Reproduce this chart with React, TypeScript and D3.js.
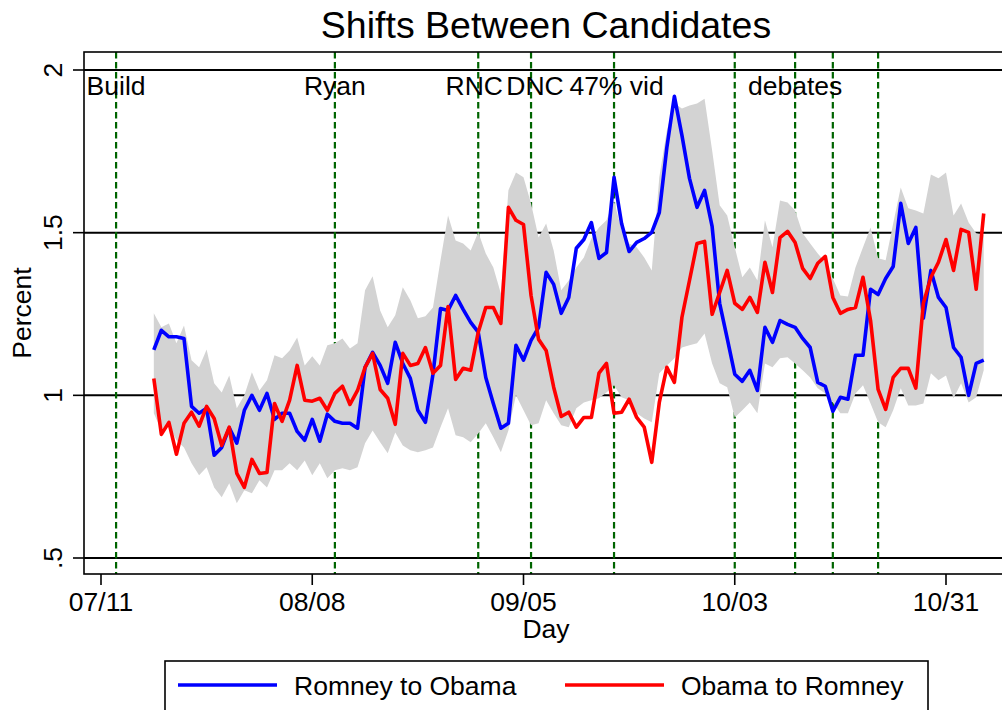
import React from "react";
import * as d3 from "d3";

// Daily series, first observation on FIRST_DAY, one value per day.
const FIRST_DAY = "2012-07-18";

const romneyToObama = [
  1.14, 1.2, 1.18, 1.18, 1.175, 0.966, 0.945, 0.96, 0.816, 0.84,
  0.9, 0.853, 0.954, 1.0, 0.954, 1.006, 0.926, 0.945, 0.945, 0.889,
  0.862, 0.926, 0.859, 0.942, 0.92, 0.914, 0.914, 0.899, 1.086, 1.132,
  1.092, 1.037, 1.163, 1.098, 1.052, 0.954, 0.917, 1.065, 1.267, 1.261,
  1.307, 1.264, 1.224, 1.194, 1.055, 0.975, 0.899, 0.914, 1.154, 1.108,
  1.169, 1.209, 1.378, 1.341, 1.252, 1.301, 1.452, 1.479, 1.531, 1.421,
  1.439, 1.67, 1.528, 1.442, 1.47, 1.482, 1.501, 1.562, 1.762, 1.919,
  1.799, 1.667, 1.578, 1.63, 1.519, 1.283, 1.175, 1.065, 1.043, 1.077,
  1.015, 1.209, 1.163, 1.23, 1.218, 1.209, 1.175, 1.147, 1.04, 1.028,
  0.951, 0.994, 0.988, 1.123, 1.123, 1.326, 1.31, 1.359, 1.396, 1.59,
  1.467, 1.516, 1.237, 1.384, 1.301, 1.27, 1.147, 1.117, 1.0, 1.098,
  1.108,
];

const obamaToRomney = [
  1.052, 0.88, 0.917, 0.819, 0.914, 0.948, 0.905, 0.966, 0.929, 0.846,
  0.902, 0.76, 0.717, 0.803, 0.76, 0.763, 0.975, 0.92, 0.985, 1.092,
  0.985, 0.982, 0.991, 0.954, 1.006, 1.028, 0.972, 1.015, 1.086, 1.129,
  1.018, 0.991, 0.911, 1.129, 1.092, 1.098, 1.147, 1.068, 1.092, 1.273,
  1.049, 1.083, 1.077, 1.194, 1.27, 1.27, 1.221, 1.578, 1.538, 1.525,
  1.307, 1.172, 1.138, 1.025, 0.935, 0.948, 0.902, 0.932, 0.932, 1.068,
  1.098, 0.945, 0.948, 0.988, 0.932, 0.902, 0.794, 0.978, 1.086, 1.04,
  1.24, 1.353, 1.467, 1.473, 1.249, 1.316, 1.384, 1.283, 1.264, 1.301,
  1.255, 1.409, 1.316, 1.485, 1.504, 1.47, 1.39, 1.359, 1.406, 1.427,
  1.301, 1.252, 1.264, 1.27, 1.363, 1.23, 1.018, 0.957, 1.055, 1.083,
  1.083, 1.022, 1.283, 1.363, 1.409, 1.479, 1.384, 1.51, 1.501, 1.326,
  1.559,
];

// Shaded interval, upper and lower bounds
const bandUpper = [
  1.252, 1.209, 1.221, 1.16, 1.215, 1.108, 1.086, 1.141, 1.037, 1.009,
  1.061, 0.96, 1.0, 1.071, 1.015, 1.046, 1.123, 1.114, 1.138, 1.178,
  1.092, 1.12, 1.092, 1.154, 1.16, 1.175, 1.144, 1.16, 1.323, 1.366,
  1.261, 1.209, 1.246, 1.332, 1.292, 1.237, 1.243, 1.27, 1.415, 1.553,
  1.476, 1.467, 1.445, 1.501, 1.436, 1.393, 1.313, 1.63, 1.685, 1.67,
  1.59, 1.485, 1.528, 1.445, 1.323, 1.353, 1.393, 1.424, 1.482, 1.516,
  1.538, 1.599, 1.507, 1.467, 1.455, 1.424, 1.384, 1.67, 1.814, 1.897,
  1.882, 1.891, 1.897, 1.912, 1.753, 1.584, 1.553, 1.455, 1.363, 1.393,
  1.353, 1.538, 1.455, 1.599, 1.593, 1.568, 1.498, 1.467, 1.436, 1.409,
  1.359, 1.307, 1.304, 1.393, 1.455, 1.516, 1.421, 1.415, 1.528, 1.639,
  1.575, 1.568, 1.559, 1.679, 1.667, 1.685, 1.553, 1.59, 1.531, 1.498,
  1.492,
];

const bandLower = [
  0.945, 0.892, 0.908, 0.862, 0.84, 0.791, 0.754, 0.779, 0.717, 0.687,
  0.73, 0.668, 0.708, 0.699, 0.739, 0.717, 0.77, 0.77, 0.791, 0.77,
  0.8, 0.754, 0.791, 0.745, 0.77, 0.776, 0.77, 0.779, 0.853, 0.892,
  0.856, 0.822, 0.886, 0.846, 0.831, 0.825, 0.831, 0.84, 0.902, 0.96,
  0.877, 0.871, 0.856, 0.883, 0.914, 0.871, 0.825, 0.892, 1.0, 0.954,
  0.908, 0.914, 0.985, 0.945, 0.908, 0.902, 0.96, 0.978, 0.985, 0.991,
  1.009, 1.031, 0.994, 0.985, 0.945, 0.929, 0.917, 1.068, 1.092, 1.114,
  1.147, 1.154, 1.16, 1.19, 1.098, 1.037, 1.025, 0.932, 0.954, 0.978,
  0.945, 1.098, 1.086, 1.114, 1.117, 1.098, 1.077, 1.055, 1.022, 1.006,
  0.978, 0.945, 0.945, 1.006, 1.031, 0.975, 0.917, 0.902, 0.954, 1.022,
  0.969, 0.969, 0.975, 1.068, 1.046, 1.061, 0.991, 1.037, 0.978, 0.994,
  1.077,
];

const xTickDates = ["2012-07-11", "2012-08-08", "2012-09-05", "2012-10-03", "2012-10-31"];
const xTickLabels = ["07/11", "08/08", "09/05", "10/03", "10/31"];

const yTicks = [0.5, 1, 1.5, 2];
const yTickLabels = [".5", "1", "1.5", "2"];

const eventDates = [
  "2012-07-13", "2012-08-11", "2012-08-30", "2012-09-06", "2012-09-17",
  "2012-10-03", "2012-10-11", "2012-10-16", "2012-10-22",
];
const eventLabels = ["Build", "Ryan", "RNC", "DNC", "47% vid", "", "debates", "", ""];

const seriesNames = ["Romney to Obama", "Obama to Romney"];
const seriesColors = ["#0000ff", "#ff0000"];

const W = 1002;
const H = 710;
const FONT = "'Liberation Sans', Arial, Helvetica, sans-serif";
const FS = 26.5;

const frame = { left: 84, top: 52, right: 1008, bottom: 574 };

// horizontal nudges (px) so neighbouring event labels don't collide
const labelNudge = [0, 0, -4, 4, 2.5, 0, 0, 0, 0];

const parse = d3.utcParse("%Y-%m-%d");
const DAY = 86400000;

export default function App() {
  const start = parse(FIRST_DAY)!.getTime();
  const days = romneyToObama.map((_, i) => new Date(start + i * DAY));

  const x = d3
    .scaleUtc()
    .domain([parse("2012-07-11")!, parse("2012-10-31")!])
    .range([101, 946]);
  const y = d3.scaleLinear().domain([0.5, 2]).range([558, 70]);

  const area = d3
    .area<number>()
    .x((_, i) => x(days[i]))
    .y0((_, i) => y(bandLower[i]))
    .y1((_, i) => y(bandUpper[i]));

  const line = (vals: number[]) =>
    d3
      .line<number>()
      .x((_, i) => x(days[i]))
      .y((v) => y(v))(vals) as string;

  return (
    <svg
      width={W}
      height={H}
      viewBox={`0 0 ${W} ${H}`}
      style={{ position: "absolute", left: 0, top: 0, background: "#fff", fontFamily: FONT }}
    >
      <rect x={0} y={0} width={W} height={H} fill="#fff" />

      <text x={546} y={38} textAnchor="middle" fontSize={37.5} fill="#000">
        Shifts Between Candidates
      </text>

      {/* horizontal reference lines at the y ticks */}
      {yTicks.map((t) => (
        <line key={`g${t}`} x1={frame.left} x2={frame.right} y1={y(t)} y2={y(t)} stroke="#000" strokeWidth={2} />
      ))}

      {/* event markers */}
      {eventDates.map((d) => {
        const ex = x(parse(d)!);
        return (
          <line
            key={`e${d}`}
            x1={ex}
            x2={ex}
            y1={frame.top}
            y2={frame.bottom}
            stroke="#006400"
            strokeWidth={2.2}
            strokeDasharray="6.5 3.5"
          />
        );
      })}

      <path d={area(bandUpper) as string} fill="#d3d3d3" stroke="none" />

      {[romneyToObama, obamaToRomney].map((vals, k) => (
        <path
          key={`s${k}`}
          d={line(vals)}
          fill="none"
          stroke={seriesColors[k]}
          strokeWidth={3.6}
          strokeLinejoin="round"
        />
      ))}

      {eventDates.map((d, i) =>
        eventLabels[i] ? (
          <text
            key={`l${d}`}
            x={x(parse(d)!) + labelNudge[i]}
            y={95}
            textAnchor="middle"
            fontSize={FS}
            fill="#000"
          >
            {eventLabels[i]}
          </text>
        ) : null
      )}

      {/* plot frame */}
      <rect
        x={frame.left}
        y={frame.top}
        width={frame.right - frame.left}
        height={frame.bottom - frame.top}
        fill="none"
        stroke="#000"
        strokeWidth={1.6}
      />

      {/* y axis */}
      {yTicks.map((t, i) => (
        <g key={`yt${t}`}>
          <line x1={73} x2={frame.left} y1={y(t)} y2={y(t)} stroke="#000" strokeWidth={1.6} />
          <text
            transform={`translate(62,${y(t)}) rotate(-90)`}
            textAnchor="middle"
            fontSize={FS}
            fill="#000"
          >
            {yTickLabels[i]}
          </text>
        </g>
      ))}
      <text transform={`translate(31,313) rotate(-90)`} textAnchor="middle" fontSize={FS} fill="#000">
        Percent
      </text>

      {/* x axis */}
      {xTickDates.map((d, i) => {
        const tx = x(parse(d)!);
        return (
          <g key={`xt${d}`}>
            <line x1={tx} x2={tx} y1={frame.bottom} y2={585} stroke="#000" strokeWidth={1.6} />
            <text x={tx} y={611} textAnchor="middle" fontSize={FS} fill="#000">
              {xTickLabels[i]}
            </text>
          </g>
        );
      })}
      <text x={546} y={638} textAnchor="middle" fontSize={FS} fill="#000">
        Day
      </text>

      {/* legend */}
      <rect x={165} y={661} width={763} height={60} fill="#fff" stroke="#000" strokeWidth={1.6} />
      {seriesNames.map((name, k) => {
        const lx = k === 0 ? 178 : 565;
        return (
          <g key={`lg${k}`}>
            <line x1={lx} x2={lx + 99} y1={685} y2={685} stroke={seriesColors[k]} strokeWidth={3.6} />
            <text x={lx + 116} y={695} fontSize={FS} fill="#000">
              {name}
            </text>
          </g>
        );
      })}
    </svg>
  );
}
